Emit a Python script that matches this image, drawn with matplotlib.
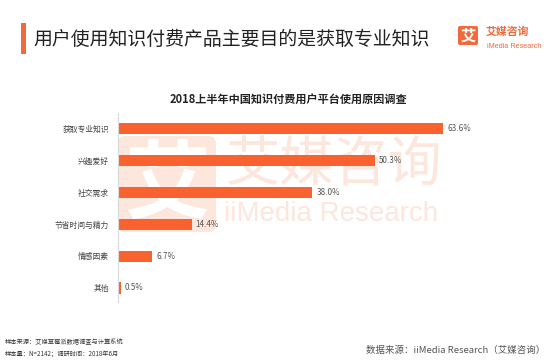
import matplotlib
matplotlib.use('Agg')
import matplotlib.pyplot as plt
from matplotlib.patches import FancyBboxPatch, Rectangle

plt.rcParams['font.family'] = ['Noto Sans CJK SC', 'DejaVu Sans']

# ---- data ----
categories = ['获取专业知识', '兴趣爱好', '社交需求', '节省时间与精力', '情感因素', '其他']
values = [63.6, 50.3, 38.0, 14.4, 6.7, 0.5]
value_labels = ['63.6%', '50.3%', '38.0%', '14.4%', '6.7%', '0.5%']

header_title = '用户使用知识付费产品主要目的是获取专业知识'
chart_title = '2018上半年中国知识付费用户平台使用原因调查'
footer_left_1 = '样本来源：艾媒草莓派数据调查与计算系统'
footer_left_2 = '样本量：N=2142；调研时间：2018年6月'
footer_right = '数据来源：iiMedia Research（艾媒咨询）'

W, H = 557, 362
BAR = '#F9622F'
PALE = '#FDE6DC'
ORANGE = '#F2693A'

fig = plt.figure(figsize=(W / 100, H / 100), dpi=100)
fig.patch.set_facecolor('white')


def fx(x):
    return x / W


def fy(y):
    return 1 - y / H


def inch(x, y):
    return x / 100, (H - y) / 100


# ---- watermark ----
x0, y0 = inch(118, 232)
wm_box = FancyBboxPatch((x0, y0), 0.98, 0.96,
                        boxstyle='round,pad=0,rounding_size=0.08',
                        transform=fig.dpi_scale_trans, facecolor=PALE,
                        edgecolor='none', zorder=-2)
fig.patches.append(wm_box)
fig.text(fx(167), fy(186), '艾', color='white', fontsize=62, fontweight='bold',
         ha='center', va='center', zorder=-1)
fig.text(fx(225), fy(166), '艾媒咨询', color=PALE, fontsize=39,
         ha='left', va='center', zorder=-1)
fig.text(fx(224), fy(214), 'iiMedia Research', color=PALE, fontsize=20,
         family='Liberation Sans', ha='left', va='center', zorder=-1)

# ---- header ----
fig.patches.append(Rectangle((fx(21), fy(54)), fx(5), 31 / H,
                             transform=fig.transFigure, facecolor=ORANGE,
                             edgecolor='none'))
fig.text(fx(33), fy(39), header_title, fontsize=13.6, color='#222222',
         ha='left', va='center')

# top-right logo
lx, ly = inch(458, 45)
logo = FancyBboxPatch((lx, ly), 0.20, 0.19,
                      boxstyle='round,pad=0,rounding_size=0.02',
                      transform=fig.dpi_scale_trans, facecolor=ORANGE,
                      edgecolor='none')
fig.patches.append(logo)
fig.text(fx(468), fy(35.5), '艾', color='white', fontsize=11, fontweight='bold',
         ha='center', va='center')
fig.text(fx(486), fy(32), '艾媒咨询', color=ORANGE, fontsize=7.8,
         fontweight='bold', ha='left', va='center')
fig.text(fx(487), fy(46), 'iMedia Research', color=ORANGE, fontsize=5.2,
         family='Liberation Sans', ha='left', va='center')

# ---- chart ----
fig.text(fx(288), fy(99), chart_title, fontsize=8.0, fontweight='bold',
         color='#222222', ha='center', va='center')

ax = fig.add_axes([fx(118), fy(302), (W - 118) / W, (302 - 113) / H])
ax.patch.set_alpha(0)
ypos = list(range(len(categories)))
ax.barh(ypos, values, height=0.35, color=BAR, zorder=2)
ax.set_xlim(0, (W - 118) / 5.11)
ax.set_ylim(5.44, -0.5)
ax.set_yticks(ypos)
ax.set_yticklabels(categories, fontsize=5.6, color='#444444')
ax.tick_params(axis='y', length=0, pad=6.5)
ax.set_xticks([])
for s in ['top', 'right', 'bottom']:
    ax.spines[s].set_visible(False)
ax.spines['left'].set_color('#D9D9D9')
ax.spines['left'].set_linewidth(0.8)
for i, (v, lab) in enumerate(zip(values, value_labels)):
    ax.text(v + 0.8, i, lab, fontsize=5.8, color='#555555', ha='left',
            va='center')

# ---- footer ----
fig.text(fx(5), fy(342), footer_left_1, fontsize=4.5, color='#333333',
         ha='left', va='center')
fig.text(fx(5), fy(354), footer_left_2, fontsize=4.5, color='#333333',
         ha='left', va='center')
fig.text(fx(545), fy(350), footer_right, fontsize=6.8, color='#555555',
         ha='right', va='center')

fig.savefig('out.png', dpi=100)
